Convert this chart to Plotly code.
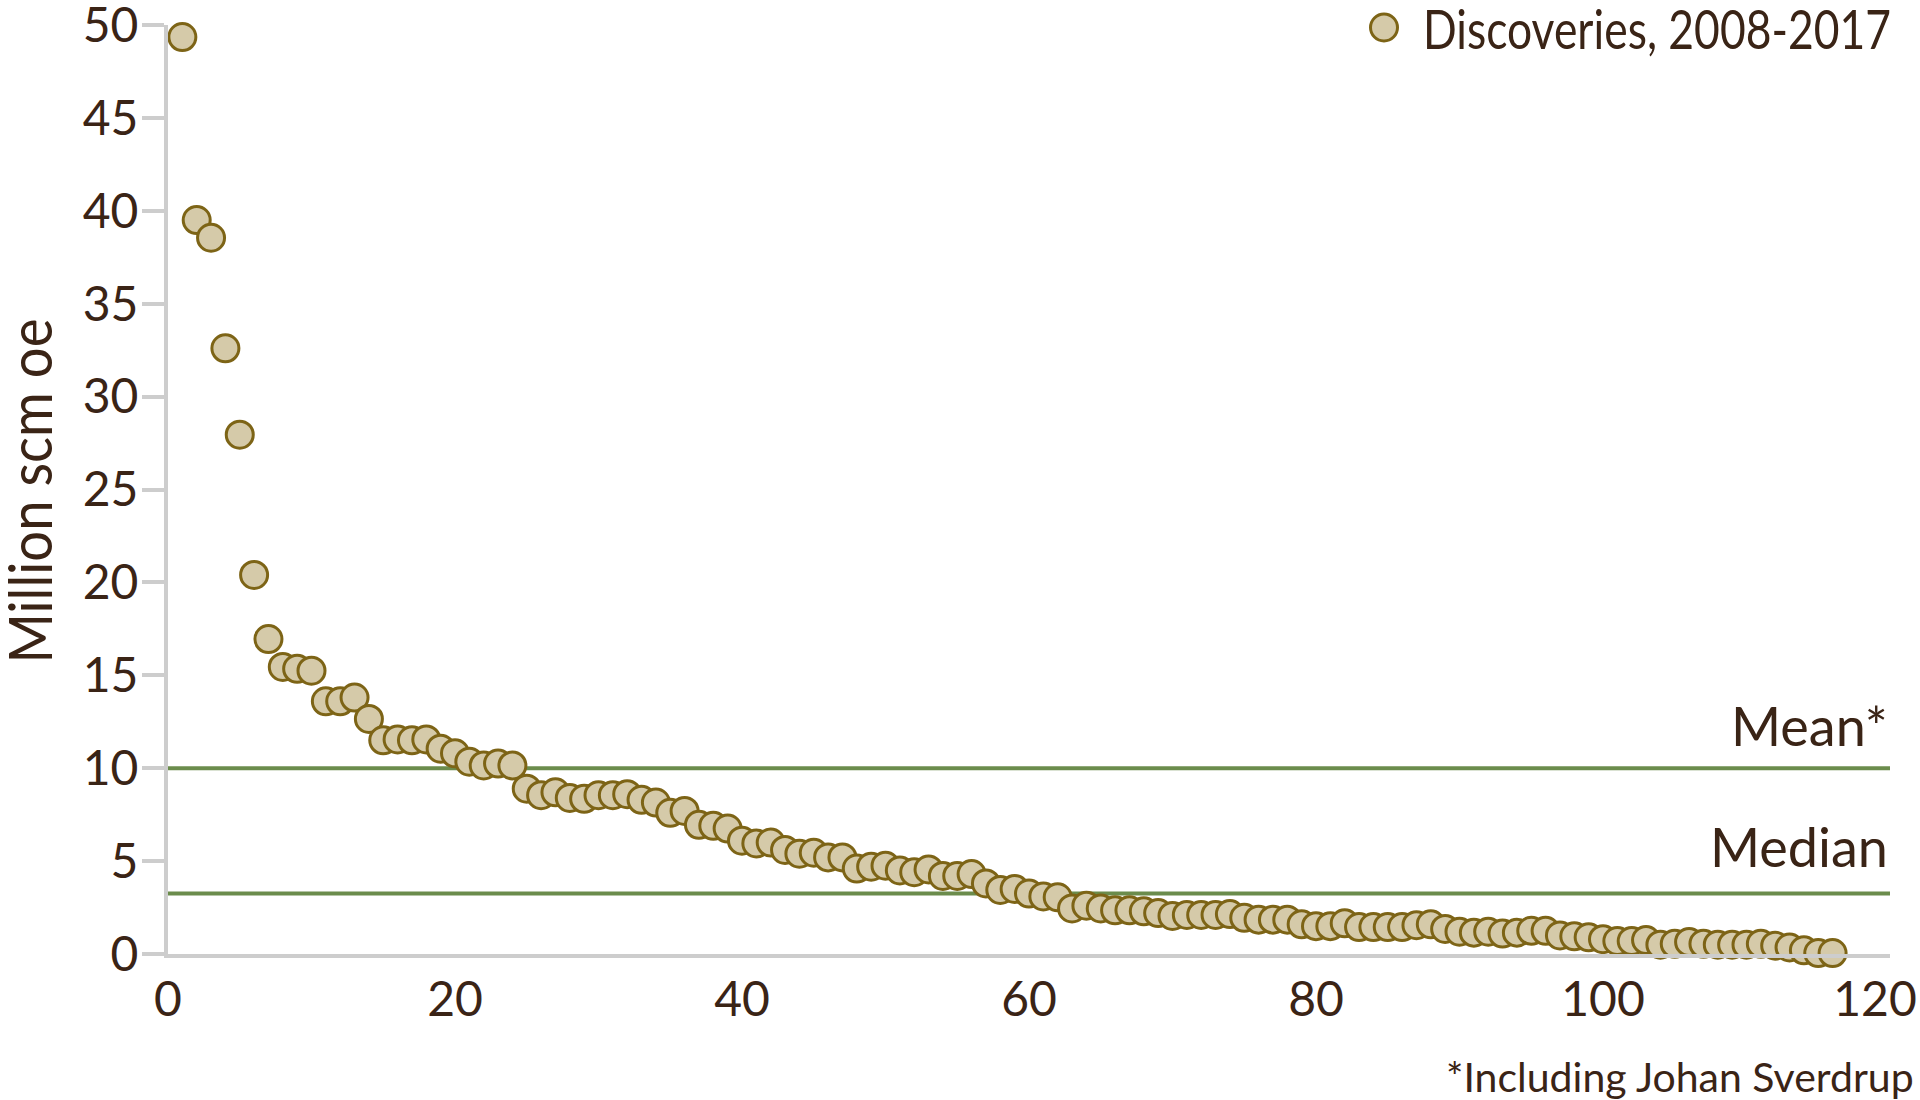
import plotly.graph_objects as go

# ---- data ----
discovery_sizes = [
    49.35, 39.5, 38.55, 32.6, 27.95, 20.4, 16.95, 15.45, 15.35, 15.25,
    13.6, 13.6, 13.8, 12.65, 11.5, 11.55, 11.5, 11.55, 11.05, 10.8,
    10.35, 10.15, 10.25, 10.15, 8.9, 8.55, 8.7, 8.4, 8.35, 8.55,
    8.55, 8.6, 8.3, 8.15, 7.6, 7.7, 6.95, 6.9, 6.75, 6.1,
    5.95, 6.0, 5.6, 5.4, 5.45, 5.2, 5.2, 4.6, 4.7, 4.75,
    4.5, 4.4, 4.55, 4.2, 4.2, 4.3, 3.8, 3.45, 3.5, 3.25,
    3.1, 3.05, 2.45, 2.6, 2.45, 2.35, 2.35, 2.3, 2.2, 2.05,
    2.1, 2.1, 2.1, 2.15, 1.95, 1.85, 1.85, 1.85, 1.6, 1.5,
    1.5, 1.65, 1.45, 1.45, 1.45, 1.45, 1.55, 1.6, 1.35, 1.2,
    1.15, 1.2, 1.1, 1.15, 1.25, 1.25, 1.0, 0.95, 0.9, 0.8,
    0.7, 0.7, 0.75, 0.5, 0.55, 0.65, 0.55, 0.5, 0.5, 0.5,
    0.55, 0.45, 0.35, 0.2, 0.05, 0.05,
]
ranks = list(range(1, len(discovery_sizes) + 1))

series_name = "Discoveries, 2008-2017"
mean_value = 10.0
median_value = 3.25
reference_labels = ["Mean*", "Median"]
y_ticks = [0, 5, 10, 15, 20, 25, 30, 35, 40, 45, 50]
x_ticks = [0, 20, 40, 60, 80, 100, 120]
y_title = "Million scm oe"
footnote = "*Including Johan Sverdrup"

# ---- styles ----
TEXT = "#3a2416"
AXIS = "#cdcdcd"
GREEN = "#6b8c4c"
FILL = "#d5caa9"
EDGE = "#7d6416"
FONT = "Lato, Open Sans, sans-serif"

W, H = 1920, 1100
plot_l, plot_r, plot_t, plot_b = 168, 30, 24.5, 146
pw = W - plot_l - plot_r
ph = H - plot_t - plot_b


def px(xpix):
    return (xpix - plot_l) / pw


def py(ypix):
    return (H - plot_b - ypix) / ph


fig = go.Figure()
fig.add_trace(go.Scatter(
    x=ranks, y=discovery_sizes, mode="markers", name=series_name,
    marker=dict(size=27, color=FILL, line=dict(color=EDGE, width=3)),
    cliponaxis=False, showlegend=False,
))

for val in (mean_value, median_value):
    fig.add_shape(type="line", xref="x", yref="y", x0=0, x1=120, y0=val, y1=val,
                  line=dict(color=GREEN, width=4), layer="below")

fig.add_annotation(x=120, y=mean_value, xref="x", yref="y", text=reference_labels[0],
                   showarrow=False, xanchor="right", yanchor="bottom", yshift=8,
                   font=dict(family=FONT, size=54, color=TEXT))
fig.add_annotation(x=120, y=median_value, xref="x", yref="y", text=reference_labels[1],
                   showarrow=False, xanchor="right", yanchor="bottom", yshift=13,
                   font=dict(family=FONT, size=54, color=TEXT))
fig.add_annotation(x=px(1916), y=py(1077), xref="paper", yref="paper", text=footnote,
                   showarrow=False, xanchor="right", yanchor="middle",
                   font=dict(family=FONT, size=41, color=TEXT))

# y-axis title (rotated)
fig.add_annotation(x=px(29), y=py(491), xref="paper", yref="paper", text=y_title,
                   showarrow=False, xanchor="center", yanchor="middle", textangle=-90,
                   font=dict(family=FONT, size=60, color=TEXT))

# legend key (marker + series name)
fig.add_shape(type="circle", xref="paper", yref="paper",
              xsizemode="pixel", ysizemode="pixel",
              xanchor=px(1384), yanchor=py(27),
              x0=-13.5, x1=13.5, y0=-13.5, y1=13.5,
              fillcolor=FILL, line=dict(color=EDGE, width=3))
fig.add_annotation(x=px(1421), y=py(28), xref="paper", yref="paper", text=series_name,
                   showarrow=False, xanchor="left", yanchor="middle", align="left",
                   font=dict(family=FONT, size=54, color=TEXT))

fig.update_layout(
    width=W, height=H,
    margin=dict(l=plot_l, r=plot_r, t=plot_t, b=plot_b, autoexpand=False),
    paper_bgcolor="white", plot_bgcolor="white",
    showlegend=False,
    xaxis=dict(range=[0, 120], tickvals=x_ticks, showgrid=False, zeroline=False,
               showline=True, linecolor=AXIS, linewidth=4, ticks="", ticklen=0,
               ticklabelstandoff=0, ticklabeloverflow="allow",
               tickfont=dict(family=FONT, size=48, color=TEXT)),
    yaxis=dict(range=[0, 50], tickvals=y_ticks, showgrid=False, zeroline=False,
               showline=True, linecolor=AXIS, linewidth=4, ticks="outside",
               ticklen=22, tickwidth=4, tickcolor=AXIS, ticklabelstandoff=-6,
               ticklabeloverflow="allow",
               tickfont=dict(family=FONT, size=48, color=TEXT)),
)

post = """
document.body.style.margin = '0';
var gd = document.getElementById('{plot_id}');
function squeeze(el, len) {
  el.setAttribute('textLength', len);
  el.setAttribute('lengthAdjust', 'spacingAndGlyphs');
}
gd.querySelectorAll('text.annotation-text').forEach(function (el) {
  if (el.textContent === 'Discoveries, 2008-2017') { squeeze(el, 468); }
  if (el.textContent === 'Million scm oe') { squeeze(el, 345); }
});
gd.querySelectorAll('.xtick text').forEach(function (el) {
  if (el.textContent === '120') { el.setAttribute('dx', '-15'); }
});
"""

fig.write_html("out.html", config={"displayModeBar": False}, post_script=post)
